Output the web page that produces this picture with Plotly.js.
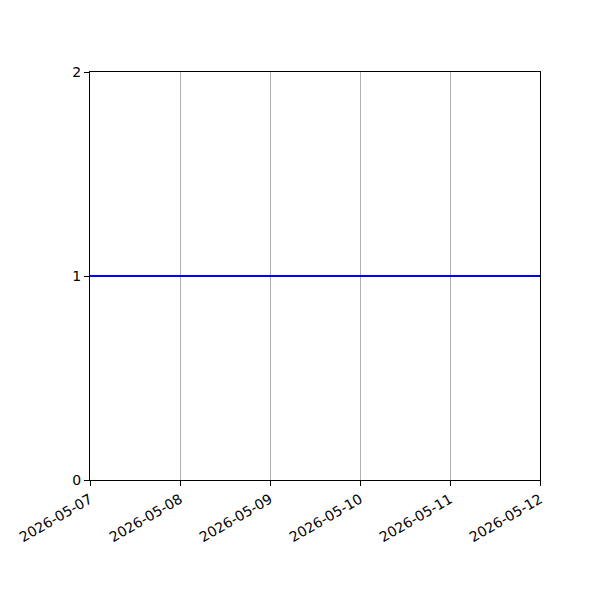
<!DOCTYPE html>
<html>
<head>
<meta charset="utf-8">
<script src="https://cdn.plot.ly/plotly-3.0.1.min.js"></script>
<style>
  html, body { margin: 0; padding: 0; background: #fff; }
  #chart { width: 600px; height: 600px; }
</style>
</head>
<body>
<div id="chart"></div>
<script>
const plot_dom_id = "chart";

// daily points, flat line at 1
var dates = ["2026-05-07", "2026-05-08", "2026-05-09", "2026-05-10", "2026-05-11", "2026-05-12"];
var values = [1, 1, 1, 1, 1, 1];
var yTicks = [0, 1, 2];

function init() {
  var data = [{
    x: dates,
    y: values,
    type: "scatter",
    mode: "lines",
    line: { color: "#0000ff", width: 2 },
    hoverinfo: "skip"
  }];

  var layout = {
    width: 600,
    height: 600,
    margin: { l: 90, r: 60, t: 72, b: 120 },
    paper_bgcolor: "#ffffff",
    plot_bgcolor: "#ffffff",
    font: { family: "DejaVu Sans, sans-serif", size: 14, color: "#000000" },
    showlegend: false,
    xaxis: {
      type: "date",
      range: [dates[0], dates[dates.length - 1]],
      tickvals: dates,
      ticktext: dates,
      tickangle: -30,
      showgrid: true,
      gridcolor: "#b0b0b0",
      gridwidth: 1,
      zeroline: false,
      showline: true,
      linecolor: "#000000",
      linewidth: 1,
      mirror: true,
      ticks: "outside",
      ticklen: 5,
      tickcolor: "#000000"
    },
    yaxis: {
      range: [0, 2],
      tickvals: yTicks,
      showgrid: false,
      zeroline: false,
      showline: true,
      linecolor: "#000000",
      linewidth: 1,
      mirror: true,
      ticks: "outside",
      ticklen: 5,
      tickcolor: "#000000"
    }
  };

  Plotly.newPlot(plot_dom_id, data, layout, { staticPlot: true });
}

init();
</script>
</body>
</html>
